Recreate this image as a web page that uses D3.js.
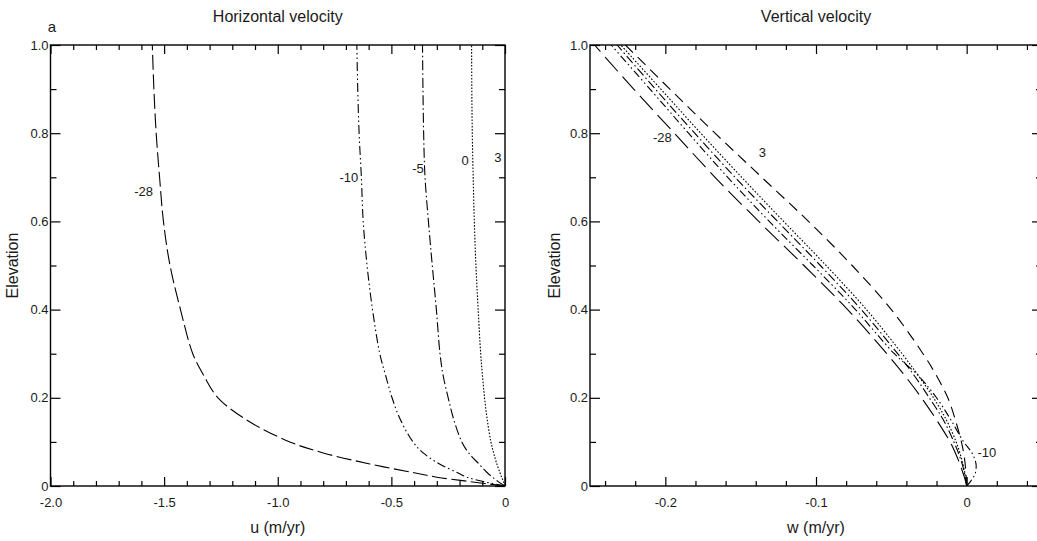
<!DOCTYPE html>
<html>
<head>
<meta charset="utf-8">
<script src="https://cdn.jsdelivr.net/npm/d3@7/dist/d3.min.js"></script>
<style>
  html, body { margin: 0; padding: 0; background: #fff; }
  svg { display: block; font-family: "Liberation Sans", Arial, Helvetica, sans-serif; }
</style>
</head>
<body>
<script>
// ---------------- DATA ----------------
const elevation = [0, 0.01, 0.02, 0.03, 0.05, 0.075, 0.1, 0.15, 0.2, 0.25, 0.3, 0.4, 0.5, 0.6, 0.7, 0.8, 0.9, 1.0];
const seriesNames = ["-28", "-10", "-5", "0", "3"];

// horizontal velocity u (m/yr)
const u_m28 = [0, -0.154, -0.30, -0.40, -0.595, -0.80, -0.947, -1.138, -1.263, -1.325, -1.374, -1.428, -1.474, -1.503, -1.52, -1.535, -1.545, -1.552];
const u_m10 = [0, -0.095, -0.168, -0.208, -0.288, -0.36, -0.405, -0.46, -0.497, -0.525, -0.551, -0.583, -0.607, -0.624, -0.632, -0.642, -0.648, -0.652];
const u_m5  = [0, -0.03, -0.055, -0.078, -0.115, -0.16, -0.19, -0.225, -0.25, -0.272, -0.286, -0.302, -0.32, -0.337, -0.352, -0.358, -0.361, -0.363];
const u_0   = [0, -0.007, -0.015, -0.022, -0.036, -0.05, -0.062, -0.078, -0.09, -0.099, -0.107, -0.118, -0.128, -0.135, -0.14, -0.144, -0.146, -0.147];
const u_3   = [0, 0.004, 0.008, 0.011, 0.016, 0.02, 0.023, 0.027, 0.03, 0.032, 0.034, 0.036, 0.038, 0.039, 0.04, 0.041, 0.041, 0.042];

// vertical velocity w (m/yr)
const w_m28 = [0, -0.0007, -0.0015, -0.0025, -0.0045, -0.0075, -0.011, -0.020, -0.030, -0.041, -0.053, -0.079, -0.108, -0.138, -0.167, -0.194, -0.221, -0.247];
const w_m10 = [0, 0.0025, 0.0045, 0.0058, 0.0062, 0.0035, -0.002, -0.0105, -0.020, -0.032, -0.048, -0.0738, -0.102, -0.131, -0.1586, -0.1846, -0.2102, -0.236];
const w_m5  = [0, -0.0004, -0.001, -0.0015, -0.003, -0.0055, -0.0085, -0.0155, -0.0248, -0.0347, -0.0458, -0.070, -0.0971, -0.1255, -0.1537, -0.1805, -0.2066, -0.232];
const w_0   = [0, -0.0003, -0.0007, -0.0012, -0.0025, -0.0045, -0.007, -0.0135, -0.022, -0.032, -0.0429, -0.0665, -0.0933, -0.1215, -0.1493, -0.1765, -0.203, -0.2295];
const w_3   = [0, -0.0001, -0.0003, -0.0005, -0.001, -0.002, -0.0035, -0.0075, -0.0125, -0.020, -0.029, -0.050, -0.076, -0.105, -0.136, -0.167, -0.197, -0.2265];

// ticks
const elevMajor = [0, 0.2, 0.4, 0.6, 0.8, 1.0];
const elevMajorLabels = ["0", "0.2", "0.4", "0.6", "0.8", "1.0"];
const elevMinor = [0.1, 0.3, 0.5, 0.7, 0.9];
const uMajor = [-2.0, -1.5, -1.0, -0.5, 0];
const uMajorLabels = ["-2.0", "-1.5", "-1.0", "-0.5", "0"];
const uMinor = [-1.9, -1.8, -1.7, -1.6, -1.4, -1.3, -1.2, -1.1, -0.9, -0.8, -0.7, -0.6, -0.4, -0.3, -0.2, -0.1];
const wMajor = [-0.2, -0.1, 0];
const wMajorLabels = ["-0.2", "-0.1", "0"];
const wMinor = [-0.24, -0.22, -0.18, -0.16, -0.14, -0.12, -0.08, -0.06, -0.04, -0.02, 0.02, 0.04];

// curve annotations (data coordinates)
const uLabels = [["-28", -1.59, 0.667], ["-10", -0.687, 0.70], ["-5", -0.383, 0.721], ["0", -0.176, 0.739], ["3", -0.031, 0.746]];
const wLabels = [["-28", -0.202, 0.79], ["3", -0.1356, 0.757], ["-10", 0.0134, 0.077]];

// ---------------- DRAW ----------------
const W = 1037, H = 541;
const svg = d3.select("body").append("svg").attr("width", W).attr("height", H);
const yTop = 45, yBot = 486;
const ink = "#1a1a1a";

const dashLeft = { "-28": "15,4.5", "-10": "9,3,1.5,3,1.5,3", "-5": "10,3,1.5,3", "0": "1.6,1.6", "3": "8,5" };
const dashRight = { "-28": "19,7", "-10": "8,3,1.5,3,1.5,3", "-5": "9,3,1.5,3", "0": "1.6,1.8", "3": "11,6.5" };

function panel(opt) {
  const x = d3.scaleLinear().domain(opt.xDomain).range([opt.x0, opt.x1]);
  const y = d3.scaleLinear().domain([0, 1]).range([yBot, yTop]);
  const g = svg.append("g");
  const clipId = "clip" + opt.id;
  svg.append("clipPath").attr("id", clipId).append("rect")
    .attr("x", opt.x0).attr("y", yTop).attr("width", opt.x1 - opt.x0).attr("height", yBot - yTop);

  // curves
  const line = d3.line().x(d => x(d[0])).y(d => y(d[1])).curve(d3.curveCatmullRom.alpha(0.5));
  const cg = g.append("g").attr("clip-path", `url(#${clipId})`);
  opt.series.forEach((vals, i) => {
    const name = seriesNames[i];
    cg.append("path")
      .attr("d", line(vals.map((v, k) => [v, elevation[k]])))
      .attr("fill", "none").attr("stroke", "#000").attr("stroke-width", 1.1)
      .attr("stroke-dasharray", opt.dash[name]);
  });

  const fmtFrom = (vals, labs) => (d => labs[vals.indexOf(d)]);
  const styleAxis = sel => {
    sel.select(".domain").remove();
    sel.selectAll("line").attr("stroke", "#000").attr("stroke-width", 1.2);
    sel.selectAll("text").attr("font-size", 13).attr("fill", ink).attr("font-family", "Liberation Sans, Arial, sans-serif");
  };
  // bottom
  g.append("g").attr("transform", `translate(0,${yBot})`)
    .call(d3.axisBottom(x).tickValues(opt.xMinor).tickSize(-5).tickFormat("")).call(styleAxis);
  g.append("g").attr("transform", `translate(0,${yBot})`)
    .call(d3.axisBottom(x).tickValues(opt.xMajor).tickSize(-9).tickPadding(12).tickFormat(fmtFrom(opt.xMajor, opt.xLabels))).call(styleAxis);
  // top
  g.append("g").attr("transform", `translate(0,${yTop})`)
    .call(d3.axisTop(x).tickValues(opt.xMinor).tickSize(-5).tickFormat("")).call(styleAxis);
  g.append("g").attr("transform", `translate(0,${yTop})`)
    .call(d3.axisTop(x).tickValues(opt.xMajor).tickSize(-9).tickFormat("")).call(styleAxis);
  // left
  g.append("g").attr("transform", `translate(${opt.x0},0)`)
    .call(d3.axisLeft(y).tickValues(elevMinor).tickSize(-6).tickFormat("")).call(styleAxis);
  g.append("g").attr("transform", `translate(${opt.x0},0)`)
    .call(d3.axisLeft(y).tickValues(elevMajor).tickSize(-10).tickPadding(2).tickFormat(fmtFrom(elevMajor, elevMajorLabels))).call(styleAxis);
  // right
  g.append("g").attr("transform", `translate(${opt.x1},0)`)
    .call(d3.axisRight(y).tickValues(elevMinor).tickSize(-6).tickFormat("")).call(styleAxis);
  g.append("g").attr("transform", `translate(${opt.x1},0)`)
    .call(d3.axisRight(y).tickValues(elevMajor).tickSize(-10).tickFormat("")).call(styleAxis);

  // frame
  g.append("rect").attr("x", opt.x0).attr("y", yTop).attr("width", opt.x1 - opt.x0).attr("height", yBot - yTop)
    .attr("fill", "none").attr("stroke", "#000").attr("stroke-width", 1.4);

  // curve labels
  opt.labels.forEach(l => {
    g.append("text").attr("x", x(l[1])).attr("y", y(l[2])).attr("dy", "0.35em")
      .attr("text-anchor", "middle").attr("font-size", 13).attr("fill", ink).text(l[0]);
  });

  // titles
  const cx = (opt.x0 + opt.x1) / 2;
  g.append("text").attr("x", cx).attr("y", 22).attr("text-anchor", "middle")
    .attr("font-size", 16).attr("fill", ink).text(opt.title);
  g.append("text").attr("x", cx).attr("y", 533).attr("text-anchor", "middle")
    .attr("font-size", 16).attr("fill", ink).text(opt.xTitle);
  g.append("text").attr("transform", `translate(${opt.yTitleX},${(yTop + yBot) / 2}) rotate(-90)`)
    .attr("text-anchor", "middle").attr("font-size", 16).attr("fill", ink).text("Elevation");
}

panel({
  id: "L", x0: 50.5, x1: 505, xDomain: [-2, 0],
  xMajor: uMajor, xLabels: uMajorLabels, xMinor: uMinor,
  series: [u_m28, u_m10, u_m5, u_0, u_3], dash: dashLeft, labels: uLabels,
  title: "Horizontal velocity", xTitle: "u (m/yr)", yTitleX: 18
});
panel({
  id: "R", x0: 590, x1: 1042, xDomain: [-0.25, 0.05],
  xMajor: wMajor, xLabels: wMajorLabels, xMinor: wMinor,
  series: [w_m28, w_m10, w_m5, w_0, w_3], dash: dashRight, labels: wLabels,
  title: "Vertical velocity", xTitle: "w (m/yr)", yTitleX: 560
});

svg.append("text").attr("x", 52).attr("y", 32).attr("text-anchor", "middle")
  .attr("font-size", 15).attr("fill", ink).text("a");
</script>
</body>
</html>
